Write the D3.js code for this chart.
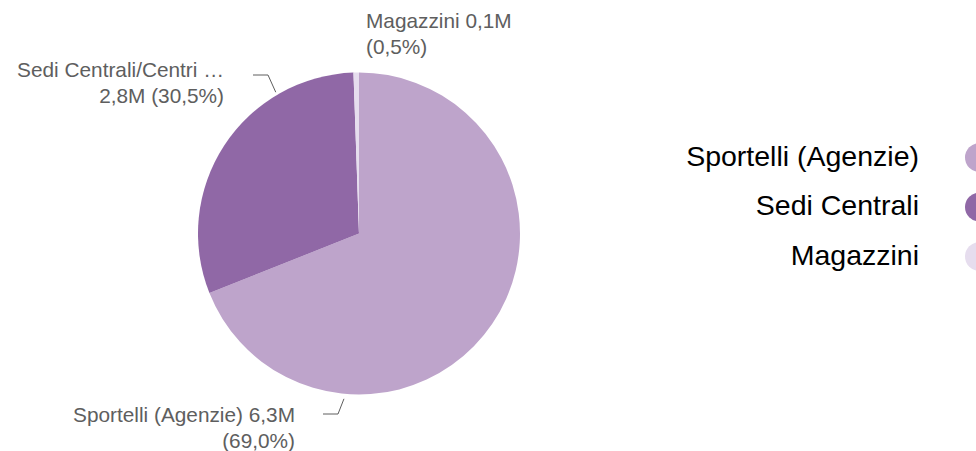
<!DOCTYPE html>
<html>
<head>
<meta charset="utf-8">
<script src="https://cdn.jsdelivr.net/npm/d3@7"></script>
<style>
  body { margin:0; background:#fff; }
  svg { display:block; font-family:"Liberation Sans", Arial, sans-serif; }
  .slice-label { fill:#5e5e5e; font-size:20.8px; }
  .leader { fill:none; stroke:#5e5e5e; stroke-width:1; }
  .legend text { fill:#000; font-size:28.5px; }
</style>
</head>
<body>
<svg id="pie"></svg>
<script>
// data
var categories  = ["Sportelli (Agenzie)", "Sedi Centrali", "Magazzini"];
var sliceNames  = ["Sportelli (Agenzie)", "Sedi Centrali/Centri \u2026", "Magazzini"];
var valuesM     = [6.3, 2.785, 0.05];
var colors      = ["#bea4cb", "#9068a6", "#e6ddee"];

var screen = {width:976, height:451};
var pieCenter = {x:359, y:233.5};
var radius = 161;

var svg = d3.select("svg#pie")
    .attr("width", screen.width)
    .attr("height", screen.height);

var it = d3.formatLocale({decimal:",", thousands:".", grouping:[3], currency:["","\u20ac"]});
var fmtM = it.format(".1f");
var fmtP = it.format(".1f");

var total = d3.sum(valuesM);

var pie = d3.pie().sort(null).value(function(d){ return d; });
var arcs = pie(valuesM);

var arc = d3.arc().innerRadius(0).outerRadius(radius);

var g = svg.append("g")
    .attr("transform", "translate(" + pieCenter.x + "," + pieCenter.y + ")");

g.selectAll("path")
    .data(arcs)
    .enter()
    .append("path")
    .attr("d", arc)
    .attr("fill", function(d, i){ return colors[i]; });

// label placement (text anchor, baseline of first line, leader elbow + angle where it meets the pie)
var labelLayout = [
    {x:295, y:422, anchor:"end",   leader:{x0:323, y0:414, x1:338, angle:185.2, r:166}},
    {x:224, y:77,  anchor:"end",   leader:{x0:253, y0:75,  x1:268, angle:329.5, r:164}},
    {x:366, y:28,  anchor:"start", leader:null}
];

var lineH = 25.5;

var labels = svg.append("g").classed("labels", true);

arcs.forEach(function(a, i) {
    var lay = labelLayout[i];
    var pct = a.value / total * 100;
    var lines;
    if (i == 1) {
        lines = [sliceNames[i], fmtM(a.value) + "M (" + fmtP(pct) + "%)"];
    } else {
        lines = [sliceNames[i] + " " + fmtM(a.value) + "M", "(" + fmtP(pct) + "%)"];
    }
    var t = labels.append("text")
        .classed("slice-label", true)
        .attr("text-anchor", lay.anchor);
    lines.forEach(function(s, k) {
        t.append("tspan")
            .attr("x", lay.x)
            .attr("y", lay.y + k * lineH)
            .text(s);
    });
    if (lay.leader) {
        var L = lay.leader;
        var rad = L.angle * Math.PI / 180;
        var ex = pieCenter.x + L.r * Math.sin(rad);
        var ey = pieCenter.y - L.r * Math.cos(rad);
        labels.append("path")
            .classed("leader", true)
            .attr("d", d3.line()([[L.x0, L.y0], [L.x1, L.y0], [ex, ey]]));
    }
});

// legend
var legendY = d3.scalePoint()
    .domain(categories)
    .range([157.5, 256.5]);

var legend = svg.append("g").classed("legend", true);

var items = legend.selectAll("g")
    .data(categories)
    .enter()
    .append("g")
    .attr("transform", function(d){ return "translate(0," + legendY(d) + ")"; });

items.append("text")
    .attr("x", 919)
    .attr("y", 8)
    .attr("text-anchor", "end")
    .text(function(d){ return d; });

items.append("circle")
    .attr("cx", 979.5)
    .attr("cy", 0)
    .attr("r", 14.5)
    .attr("fill", function(d, i){ return colors[i]; });
</script>
</body>
</html>
